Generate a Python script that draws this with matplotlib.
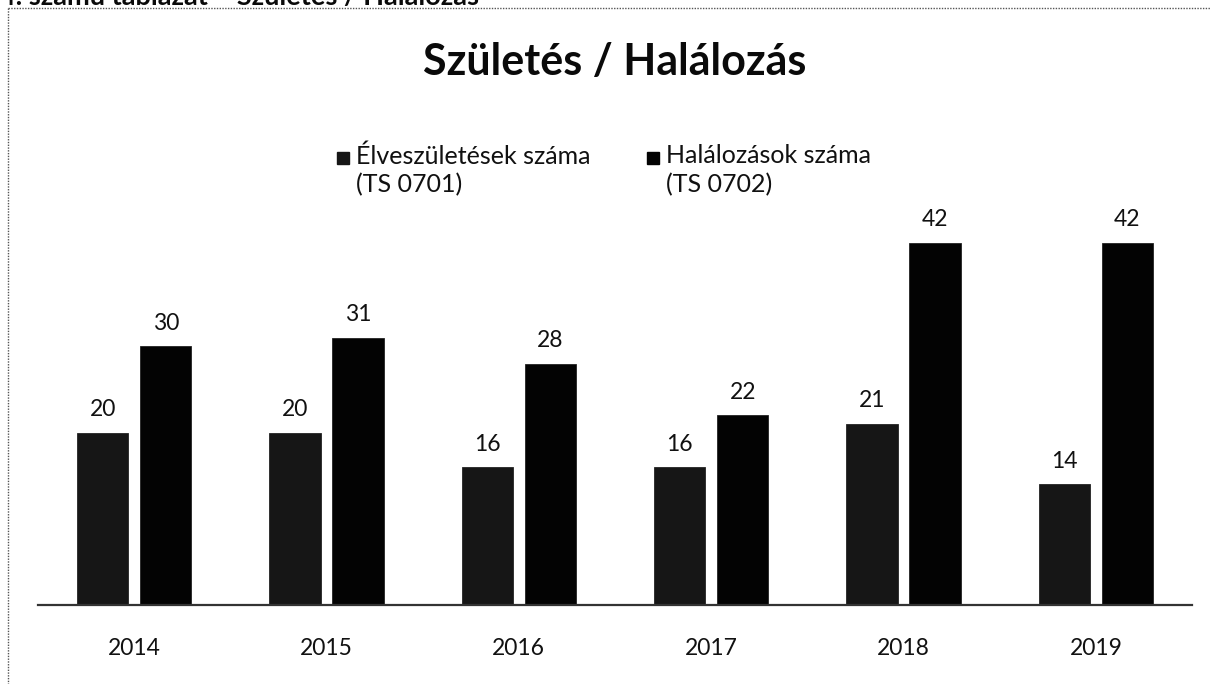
import matplotlib

matplotlib.use("Agg")
import matplotlib.pyplot as plt
import numpy as np
from matplotlib.lines import Line2D
from matplotlib.patches import Rectangle

years = ["2014", "2015", "2016", "2017", "2018", "2019"]
births = [20, 20, 16, 16, 21, 14]
deaths = [30, 31, 28, 22, 42, 42]
series_names = ["Élveszületések száma\n(TS 0701)", "Halálozások száma\n(TS 0702)"]
series_colors = ["#161616", "#030303"]

plt.rcParams["font.family"] = ["Lato", "DejaVu Sans"]

W, H = 1210, 684
fig = plt.figure(figsize=(W / 100, H / 100), dpi=100, facecolor="white")

# plot area in pixel terms: baseline at y=605, 8.62 px per unit
ymax = 45
ax = fig.add_axes([38 / W, 79 / H, (1192 - 38) / W, ymax * 8.62 / H])
x = np.arange(len(years))
width = 0.266
offset = 0.164
for vals, color, dx in ((births, series_colors[0], -offset), (deaths, series_colors[1], offset)):
    bars = ax.bar(x + dx, vals, width=width, color=color, edgecolor="#222222", linewidth=0.6)
    ax.bar_label(bars, labels=[str(v) for v in vals], padding=9, fontsize=16.5, color="#111111")

ax.set_xlim(-0.5, len(years) - 0.5)
ax.set_ylim(0, ymax)
ax.set_xticks(x)
ax.set_xticklabels(years, fontsize=16.5, color="#111111")
ax.tick_params(axis="x", length=0, pad=24)
ax.set_yticks([])
for side in ("left", "right", "top"):
    ax.spines[side].set_visible(False)
ax.spines["bottom"].set_color("#333333")
ax.spines["bottom"].set_linewidth(1.6)
ax.set_facecolor("none")

# title
fig.text(615 / W, 1 - 62 / H, "Születés / Halálozás", ha="center", va="center",
         fontsize=31, fontweight="bold", color="#0a0a0a")

# header cut off by the scan
fig.text(0 / W, 1 - 5 / H, "4. számú táblázat – Születés / Halálozás", ha="left", va="baseline",
         fontsize=19.5, fontweight="bold", color="#0a0a0a")

# legend
for name, color, lx in zip(series_names, series_colors, (343, 653)):
    fig.patches.append(Rectangle(((lx - 6) / W, 1 - 164 / H), 12 / W, 12 / H,
                                 transform=fig.transFigure, color=color))
    fig.text((lx + 13) / W, 1 - 144 / H, name, ha="left", va="top", fontsize=18,
             color="#111111", linespacing=1.3)

# dotted frame from the scanned page
fig.add_artist(Line2D([8 / W, 1], [1 - 8 / H, 1 - 8 / H], transform=fig.transFigure,
                      color="#555555", lw=1, ls=(0, (1, 1))))
fig.add_artist(Line2D([8 / W, 8 / W], [1 - 8 / H, 0], transform=fig.transFigure,
                      color="#555555", lw=1, ls=(0, (1, 1))))

fig.savefig("out.png", dpi=100, facecolor="white")
